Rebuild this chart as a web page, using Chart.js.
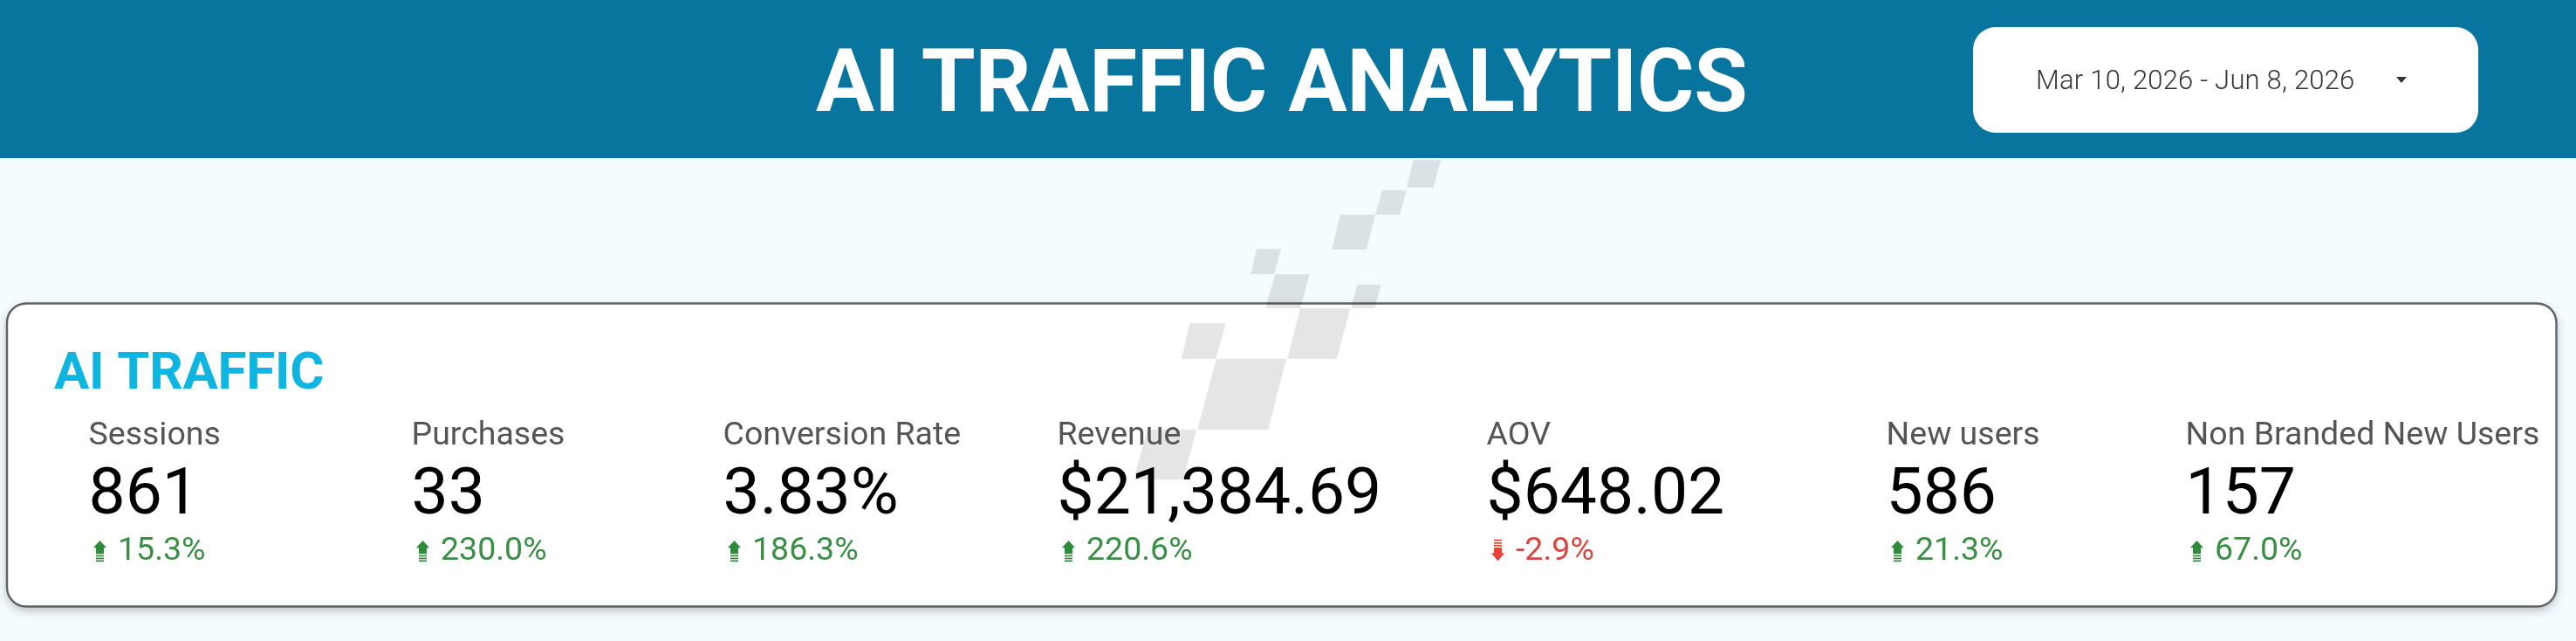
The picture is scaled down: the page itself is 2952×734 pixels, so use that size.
<!DOCTYPE html>
<html>
<head>
<meta charset="utf-8">
<title>AI Traffic Analytics</title>
<script src="https://cdn.jsdelivr.net/npm/chart.js@4"></script>
<style>
html,body{margin:0;padding:0;background:#f4fcff;overflow:hidden}
canvas{display:block}
</style>
</head>
<body>
<canvas id="c" width="2952" height="734"></canvas>
<script>
const reportTitle = "AI TRAFFIC ANALYTICS";
const dateRange = "Mar 10, 2026 - Jun 8, 2026";
const sectionTitle = "AI TRAFFIC";
const kpiLabels = ["Sessions","Purchases","Conversion Rate","Revenue","AOV","New users","Non Branded New Users"];
const kpiValues = [861,33,3.83,21384.69,648.02,586,157];
const kpiDeltas = [15.3,230.0,186.3,220.6,-2.9,21.3,67.0];
const kpiFormats = ["int","int","pct","usd","usd","int","int"];
const kpiColumns = [101.5,471.5,828.5,1211.5,1703.5,2161.5,2504.5];

const FONT = "Roboto, sans-serif";
function fmt(v,f){
  if(f==="pct") return v.toFixed(2)+"%";
  if(f==="usd") return "$"+v.toLocaleString("en-US",{minimumFractionDigits:2,maximumFractionDigits:2});
  return String(v);
}
function rr(ctx,x,y,w,h,r){ctx.beginPath();ctx.roundRect(x,y,w,h,r);}
function text(ctx,s,x,y,font,color,spacing){
  ctx.font=font;ctx.fillStyle=color;ctx.textAlign="left";ctx.textBaseline="alphabetic";
  ctx.letterSpacing=(spacing||0)+"px";
  ctx.fillText(s,x,y);
  ctx.letterSpacing="0px";
}
// decorative checker watermark, in zoomed reference coordinates
const wm=[
 [[958,40],[1054,40],[1028,134],[936,134]],
 [[852,143],[936,143],[912,227],[828,227]],
 [[708,227],[828,227],[798,347],[678,347]],
 [[420,346],[504,346],[480,432],[400,432]],
 [[484,432],[602,432],[572,549],[450,549]],
 [[766,467],[848,467],[826,549],[744,549]],
 [[570,549],[742,549],[696,722],[526,722]],
 [[190,601],[314,601],[280,722],[162,722]],
 [[282,722],[522,722],[460,966],[216,966]],
 [[44,966],[214,966],[168,1138],[-2,1138]]
];
function arrow(ctx,cx,up,color){
  ctx.fillStyle=color;
  if(up){
    ctx.beginPath();ctx.moveTo(cx,619);ctx.lineTo(cx+7.6,627.3);ctx.lineTo(cx+4.5,627.3);ctx.lineTo(cx+4.5,634.3);
    ctx.lineTo(cx-4.5,634.3);ctx.lineTo(cx-4.5,627.3);ctx.lineTo(cx-7.6,627.3);ctx.closePath();ctx.fill();
    ctx.fillRect(cx-4.5,635.6,9,1.7);ctx.fillRect(cx-4.5,638.6,9,1.7);ctx.fillRect(cx-4.5,641.5,9,1.7);
  }else{
    ctx.beginPath();ctx.moveTo(cx,642.5);ctx.lineTo(cx+7.6,633.3);ctx.lineTo(cx+4.5,633.3);ctx.lineTo(cx+4.5,627);
    ctx.lineTo(cx-4.5,627);ctx.lineTo(cx-4.5,633.3);ctx.lineTo(cx-7.6,633.3);ctx.closePath();ctx.fill();
    ctx.fillRect(cx-4.5,617.7,9,1.7);ctx.fillRect(cx-4.5,621,9,1.7);ctx.fillRect(cx-4.5,624,9,1.7);
  }
}
const dashboard={
  id:"dashboard",
  beforeDraw(chart){
    const ctx=chart.ctx;
    ctx.save();
    ctx.fillStyle="#f4fcff";ctx.fillRect(0,0,2952,734);
    ctx.fillStyle="#08759f";ctx.fillRect(0,0,2952,181);
    // date pill
    ctx.fillStyle="#fff";rr(ctx,2261,31,579,121,26);ctx.fill();
    // card
    ctx.save();
    ctx.shadowColor="rgba(0,0,0,0.28)";ctx.shadowBlur=12;ctx.shadowOffsetY=4;
    ctx.fillStyle="#fff";rr(ctx,8,347.5,2921.5,347,22);ctx.fill();
    ctx.restore();
    ctx.strokeStyle="#5f6368";ctx.lineWidth=2.4;rr(ctx,8,347.5,2921.5,347,22);ctx.stroke();
    // watermark
    ctx.fillStyle="rgba(0,0,0,0.10)";
    wm.forEach(p=>{ctx.beginPath();p.forEach((q,i)=>{const x=1300+q[0]/3,y=170+q[1]/3;i?ctx.lineTo(x,y):ctx.moveTo(x,y);});ctx.closePath();ctx.fill();});
    ctx.restore();
  },
  afterDraw(chart){
    const ctx=chart.ctx;
    ctx.save();
    text(ctx,reportTitle,935,127,"700 100px "+FONT,"#ffffff",-0.2);
    text(ctx,dateRange,2333,102,"300 31px "+FONT,"#333333",0.2);
    ctx.fillStyle="#333333";ctx.beginPath();ctx.moveTo(2746,88);ctx.lineTo(2758,88);ctx.lineTo(2752,95);ctx.closePath();ctx.fill();
    text(ctx,sectionTitle,62,445,"700 60px "+FONT,"#0db5e0",-0.2);
    const labels=chart.data.labels, values=chart.data.datasets[0].data, deltas=chart.data.datasets[1].data;
    labels.forEach((lab,i)=>{
      const x=kpiColumns[i];
      text(ctx,lab,x,509,"400 37.5px "+FONT,"#555555");
      text(ctx,fmt(values[i],kpiFormats[i]),x,588,"400 75px "+FONT,"#000000",0);
      const up=deltas[i]>=0, col=up?"#3a8e45":"#d9453f";
      arrow(ctx,x+13,up,up?"#2e8b3a":"#ea4335");
      const s=(up?"":"-")+Math.abs(deltas[i]).toFixed(1)+"%";
      text(ctx,s,x+33.5,641,"400 37.5px "+FONT,col);
    });
    ctx.restore();
  }
};
new Chart(document.getElementById("c"),{
  type:"bar",
  data:{labels:kpiLabels,datasets:[
    {label:"Value",data:kpiValues,backgroundColor:"rgba(0,0,0,0)"},
    {label:"Change %",data:kpiDeltas,backgroundColor:"rgba(0,0,0,0)"}
  ]},
  options:{
    responsive:false,animation:false,devicePixelRatio:1,
    layout:{padding:0},
    plugins:{legend:{display:false},title:{display:false},tooltip:{enabled:false}},
    scales:{x:{display:false},y:{display:false}}
  },
  plugins:[dashboard]
});
</script>
</body>
</html>
